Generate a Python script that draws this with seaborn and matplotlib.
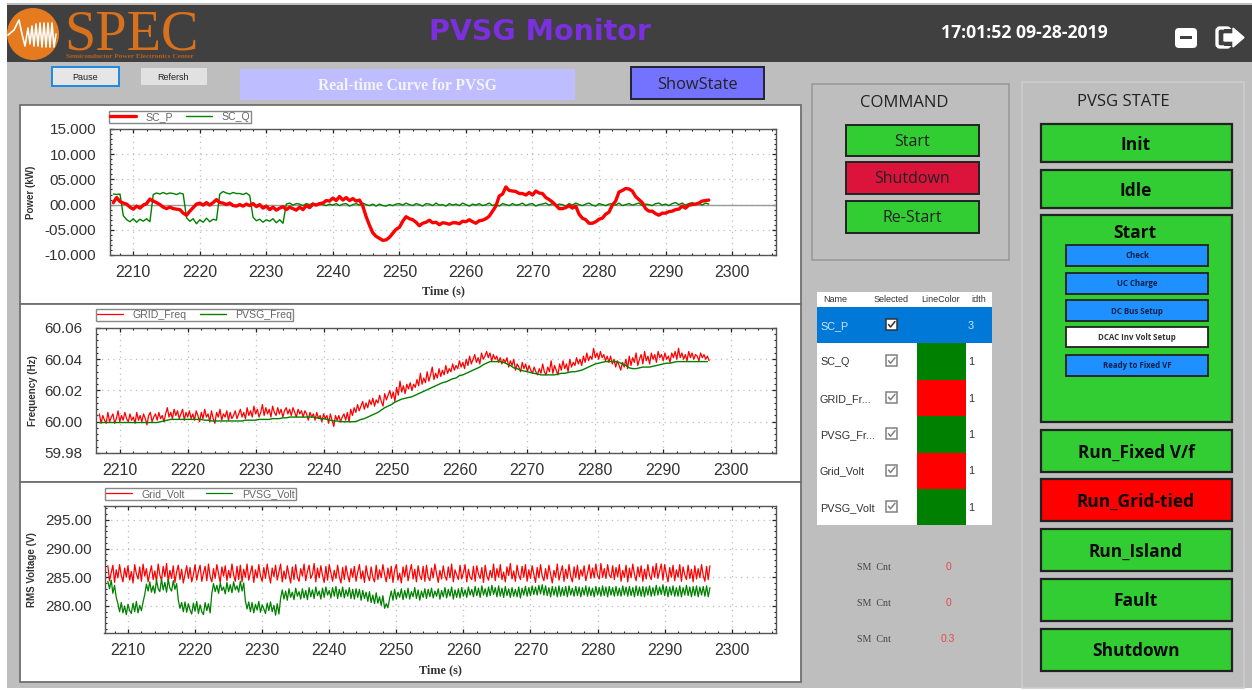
"""PVSG Monitor screen: three real-time curves inside the control panel window"""

import matplotlib
matplotlib.use('Agg')
import matplotlib.pyplot as plt
from matplotlib.patches import Rectangle, Circle, FancyBboxPatch
from matplotlib.ticker import MultipleLocator
import pandas as pd
import seaborn as sns

W, H = 1252, 690

# one row = 10 s of samples
time_s = [
    2207.0, 2207.5, 2208.0, 2208.5, 2209.0, 2209.5, 2210.0, 2210.5, 2211.0, 2211.5, 2212.0, 2212.5, 2213.0, 2213.5, 2214.0, 2214.5, 2215.0, 2215.5, 2216.0, 2216.5,
    2217.0, 2217.5, 2218.0, 2218.5, 2219.0, 2219.5, 2220.0, 2220.5, 2221.0, 2221.5, 2222.0, 2222.5, 2223.0, 2223.5, 2224.0, 2224.5, 2225.0, 2225.5, 2226.0, 2226.5,
    2227.0, 2227.5, 2228.0, 2228.5, 2229.0, 2229.5, 2230.0, 2230.5, 2231.0, 2231.5, 2232.0, 2232.5, 2233.0, 2233.5, 2234.0, 2234.5, 2235.0, 2235.5, 2236.0, 2236.5,
    2237.0, 2237.5, 2238.0, 2238.5, 2239.0, 2239.5, 2240.0, 2240.5, 2241.0, 2241.5, 2242.0, 2242.5, 2243.0, 2243.5, 2244.0, 2244.5, 2245.0, 2245.5, 2246.0, 2246.5,
    2247.0, 2247.5, 2248.0, 2248.5, 2249.0, 2249.5, 2250.0, 2250.5, 2251.0, 2251.5, 2252.0, 2252.5, 2253.0, 2253.5, 2254.0, 2254.5, 2255.0, 2255.5, 2256.0, 2256.5,
    2257.0, 2257.5, 2258.0, 2258.5, 2259.0, 2259.5, 2260.0, 2260.5, 2261.0, 2261.5, 2262.0, 2262.5, 2263.0, 2263.5, 2264.0, 2264.5, 2265.0, 2265.5, 2266.0, 2266.5,
    2267.0, 2267.5, 2268.0, 2268.5, 2269.0, 2269.5, 2270.0, 2270.5, 2271.0, 2271.5, 2272.0, 2272.5, 2273.0, 2273.5, 2274.0, 2274.5, 2275.0, 2275.5, 2276.0, 2276.5,
    2277.0, 2277.5, 2278.0, 2278.5, 2279.0, 2279.5, 2280.0, 2280.5, 2281.0, 2281.5, 2282.0, 2282.5, 2283.0, 2283.5, 2284.0, 2284.5, 2285.0, 2285.5, 2286.0, 2286.5,
    2287.0, 2287.5, 2288.0, 2288.5, 2289.0, 2289.5, 2290.0, 2290.5, 2291.0, 2291.5, 2292.0, 2292.5, 2293.0, 2293.5, 2294.0, 2294.5, 2295.0, 2295.5, 2296.0, 2296.5,
]

sc_p = [
    0.4, 1.4, 0.6, 0.3, 0.1, -0.5, -0.9, -0.3, -0.7, -0.1, 0.2, 1.1, 0.7, 0.4, 0.0, -0.5, -0.8, -0.5, -0.8, -0.9,
    -1.0, -1.7, -2.1, -1.3, -0.6, 0.1, 0.3, -0.1, 0.4, -0.1, 0.4, 1.0, 0.4, 0.3, 0.0, 0.3, -0.2, -0.3, 0.0, -0.3,
    0.1, -0.2, 0.2, -0.4, 0.0, -0.7, -0.3, -1.0, -0.5, -1.1, -0.7, -0.4, -1.0, -0.5, -0.8, -1.1, -0.5, -1.0, -0.2, -0.6,
    0.1, -0.1, 0.2, 0.3, 0.8, 0.7, 1.3, 0.8, 1.6, 0.9, 1.4, 0.8, 1.2, 0.7, 0.9, -0.3, -2.4, -4.1, -5.6, -6.3,
    -6.7, -7.1, -7.0, -6.5, -5.7, -4.9, -4.5, -3.3, -2.4, -2.8, -3.0, -3.5, -4.2, -3.7, -3.5, -3.1, -3.6, -3.5, -4.0, -3.6,
    -3.7, -3.9, -3.6, -3.6, -3.8, -3.3, -3.4, -3.0, -3.4, -3.7, -3.2, -3.1, -2.8, -2.3, -1.3, -0.3, 1.7, 2.1, 3.5, 2.8,
    2.7, 2.6, 2.2, 2.2, 1.9, 2.4, 1.9, 2.7, 2.3, 2.2, 1.4, 1.0, 0.5, -0.1, -0.8, -0.8, -0.6, -0.2, -0.7, -0.3,
    -1.9, -2.7, -3.0, -3.7, -3.7, -3.4, -2.9, -2.7, -1.9, -1.5, -0.1, 0.7, 2.5, 2.8, 3.2, 3.1, 2.7, 1.6, 1.0, 0.4,
    -0.8, -1.3, -1.3, -1.8, -2.1, -1.7, -1.7, -1.4, -1.3, -1.0, -0.9, -0.3, -0.7, -0.1, 0.0, 0.1, 0.3, 0.7, 0.8, 0.9,
]

sc_q = [
    2.1, 2.0, 2.1, -2.2, -3.0, -3.4, -2.8, -3.5, -2.9, -3.3, -2.8, -3.4, 2.0, 2.3, 2.1, 2.4, 2.1, 2.3, 2.2, 2.0,
    2.3, 2.1, -2.6, -3.3, -2.8, -3.8, -3.0, -3.5, -2.7, -3.4, -2.9, -3.1, 2.1, 2.6, 2.3, 2.1, 2.4, 2.2, 2.2, 2.0,
    2.3, 1.8, -2.5, -3.2, -2.9, -3.5, -3.0, -3.3, -2.8, -3.6, -3.0, -3.7, 0.1, 0.3, -0.1, 0.2, 0.1, -0.2, 0.2, 0.0,
    0.3, -0.1, 0.2, 0.0, -0.2, 0.1, -0.1, 0.2, -0.2, 0.1, 0.2, -0.3, 0.0, 0.2, -0.1, 0.3, 0.0, -0.2, 0.1, -0.3,
    0.1, -0.2, -0.3, 0.0, -0.2, 0.1, 0.2, -0.1, 0.3, 0.0, -0.2, 0.2, 0.0, -0.3, 0.2, 0.1, -0.2, 0.3, -0.1, 0.0,
    -0.3, 0.2, -0.1, 0.1, -0.2, 0.3, 0.0, -0.3, 0.1, -0.1, 0.2, -0.2, 0.0, 0.3, -0.2, 0.1, -0.3, 0.2, 0.0, -0.2,
    0.2, -0.1, 0.0, 0.3, -0.2, 0.1, 0.2, -0.3, 0.0, 0.1, 0.3, -0.1, 0.2, -0.2, 0.1, 0.0, -0.3, 0.2, -0.1, 0.3,
    0.0, -0.2, 0.1, 0.3, -0.1, -0.3, 0.2, 0.0, -0.2, 0.1, 0.2, -0.1, 0.3, -0.2, 0.0, 0.2, -0.1, 0.1, 0.3, -0.2,
    0.1, 0.0, -0.2, 0.2, 0.3, -0.1, 0.1, -0.2, 0.2, 0.4, 0.0, 0.3, -0.1, 0.2, 0.4, 0.1, 0.3, -0.1, 0.3, 0.1,
]

pvsg_freq = [
    59.9995, 59.9995, 59.9995, 59.9995, 59.9995, 59.9995, 59.9995, 59.9995, 59.9995, 59.9995, 59.9995, 59.9995, 59.9995, 59.9995, 59.9995, 59.9995, 59.9995, 59.9995, 60.0000, 60.0005,
    60.0010, 60.0015, 60.0015, 60.0015, 60.0015, 60.0015, 60.0015, 60.0015, 60.0015, 60.0015, 60.0015, 60.0010, 60.0010, 60.0005, 60.0005, 60.0005, 60.0005, 60.0005, 60.0005, 60.0005,
    60.0005, 60.0005, 60.0005, 60.0010, 60.0010, 60.0010, 60.0010, 60.0015, 60.0015, 60.0015, 60.0015, 60.0020, 60.0020, 60.0020, 60.0025, 60.0025, 60.0030, 60.0030, 60.0030, 60.0030,
    60.0030, 60.0030, 60.0030, 60.0030, 60.0025, 60.0020, 60.0020, 60.0015, 60.0010, 60.0005, 60.0005, 60.0000, 60.0000, 60.0000, 60.0000, 60.0000, 60.0005, 60.0015, 60.0020, 60.0030,
    60.0040, 60.0050, 60.0060, 60.0075, 60.0090, 60.0100, 60.0110, 60.0125, 60.0135, 60.0145, 60.0150, 60.0155, 60.0160, 60.0170, 60.0180, 60.0190, 60.0200, 60.0210, 60.0220, 60.0230,
    60.0240, 60.0250, 60.0255, 60.0265, 60.0275, 60.0280, 60.0295, 60.0300, 60.0310, 60.0320, 60.0330, 60.0340, 60.0350, 60.0365, 60.0375, 60.0385, 60.0385, 60.0385, 60.0385, 60.0380,
    60.0370, 60.0360, 60.0345, 60.0340, 60.0330, 60.0325, 60.0320, 60.0315, 60.0310, 60.0305, 60.0300, 60.0300, 60.0300, 60.0300, 60.0300, 60.0305, 60.0310, 60.0310, 60.0315, 60.0320,
    60.0320, 60.0325, 60.0330, 60.0340, 60.0350, 60.0360, 60.0370, 60.0375, 60.0380, 60.0385, 60.0385, 60.0385, 60.0385, 60.0380, 60.0370, 60.0360, 60.0345, 60.0340, 60.0340, 60.0345,
    60.0350, 60.0350, 60.0350, 60.0355, 60.0360, 60.0365, 60.0370, 60.0375, 60.0375, 60.0380, 60.0385, 60.0385, 60.0385, 60.0385, 60.0385, 60.0385, 60.0385, 60.0385, 60.0385, 60.0385,
]

# the three noisy traces were logged twice as often: one row = 2.5 s
grid_freq = [
    60.005, 59.999, 60.004, 60.001, 59.999, 60.006, 60.000, 60.003, 60.005, 59.999,
    60.002, 60.007, 60.000, 60.004, 60.001, 60.006, 60.002, 60.000, 60.005, 60.001,
    60.003, 59.999, 60.006, 60.001, 60.004, 60.000, 60.005, 60.002, 59.998, 60.004,
    60.006, 60.000, 60.003, 60.005, 60.001, 60.006, 60.002, 60.004, 60.000, 60.005,
    60.009, 60.003, 60.006, 60.002, 60.008, 60.004, 60.007, 60.002, 60.005, 60.008,
    60.001, 60.006, 60.003, 60.007, 60.002, 60.005, 60.001, 60.007, 60.004, 60.000,
    60.006, 60.002, 60.008, 60.003, 60.005, 60.000, 60.007, 60.002, 59.999, 60.006,
    60.003, 60.008, 60.001, 60.005, 60.003, 60.007, 60.001, 60.006, 60.002, 60.004,
    60.007, 60.002, 60.005, 60.008, 60.003, 60.006, 60.002, 60.009, 60.004, 60.007,
    60.003, 60.010, 60.005, 60.008, 60.003, 60.006, 60.011, 60.004, 60.009, 60.005,
    60.008, 60.003, 60.010, 60.006, 60.004, 60.009, 60.005, 60.008, 60.003, 60.007,
    60.009, 60.005, 60.008, 60.004, 60.009, 60.006, 60.003, 60.008, 60.005, 60.007,
    60.003, 60.007, 60.005, 60.001, 60.006, 60.003, 60.005, 60.001, 60.006, 60.002,
    60.004, 60.000, 60.005, 60.002, 60.004, 59.999, 60.005, 60.001, 59.997, 60.004,
    60.001, 60.004, 60.000, 60.003, 60.005, 60.001, 60.006, 60.000, 60.008, 60.004,
    60.009, 60.006, 60.011, 60.007, 60.010, 60.013, 60.008, 60.012, 60.009, 60.014,
    60.011, 60.015, 60.010, 60.014, 60.012, 60.017, 60.013, 60.010, 60.018, 60.014,
    60.017, 60.020, 60.015, 60.019, 60.013, 60.022, 60.017, 60.026, 60.019, 60.023,
    60.018, 60.024, 60.021, 60.025, 60.020, 60.024, 60.022, 60.027, 60.023, 60.031,
    60.024, 60.028, 60.025, 60.032, 60.026, 60.030, 60.035, 60.027, 60.031, 60.028,
    60.034, 60.029, 60.033, 60.030, 60.036, 60.031, 60.034, 60.032, 60.037, 60.033,
    60.036, 60.034, 60.039, 60.035, 60.038, 60.034, 60.040, 60.036, 60.042, 60.037,
    60.040, 60.043, 60.038, 60.041, 60.037, 60.044, 60.040, 60.042, 60.045, 60.041,
    60.044, 60.039, 60.043, 60.040, 60.042, 60.038, 60.041, 60.037, 60.040, 60.038,
    60.041, 60.035, 60.039, 60.036, 60.040, 60.033, 60.037, 60.035, 60.032, 60.038,
    60.034, 60.037, 60.032, 60.036, 60.033, 60.031, 60.035, 60.032, 60.030, 60.034,
    60.031, 60.037, 60.032, 60.030, 60.035, 60.032, 60.039, 60.031, 60.036, 60.033,
    60.030, 60.037, 60.033, 60.039, 60.034, 60.037, 60.032, 60.040, 60.035, 60.038,
    60.036, 60.041, 60.037, 60.040, 60.036, 60.042, 60.038, 60.044, 60.039, 60.042,
    60.040, 60.047, 60.041, 60.044, 60.040, 60.045, 60.041, 60.043, 60.039, 60.042,
    60.038, 60.042, 60.037, 60.040, 60.035, 60.039, 60.036, 60.033, 60.038, 60.035,
    60.040, 60.034, 60.042, 60.036, 60.041, 60.038, 60.044, 60.036, 60.040, 60.043,
    60.037, 60.045, 60.039, 60.042, 60.037, 60.044, 60.040, 60.043, 60.038, 60.045,
    60.041, 60.043, 60.039, 60.044, 60.040, 60.042, 60.038, 60.044, 60.041, 60.045,
    60.040, 60.047, 60.041, 60.044, 60.040, 60.043, 60.039, 60.045, 60.041, 60.044,
    60.040, 60.043, 60.042, 60.039, 60.044, 60.041, 60.043, 60.040, 60.042, 60.039,
]

grid_volt = [
    287.0, 284.4, 285.8, 287.1, 284.1, 286.3, 284.9, 287.2, 285.3, 284.2,
    286.6, 285.0, 287.0, 284.5, 286.0, 284.0, 287.2, 285.6, 284.7, 286.8,
    284.3, 287.3, 285.2, 286.5, 284.2, 285.7, 287.0, 284.6, 286.1, 284.3,
    287.3, 285.4, 284.5, 286.9, 285.1, 287.4, 284.2, 286.2, 284.8, 287.0,
    284.1, 285.9, 287.1, 284.6, 286.4, 284.0, 285.5, 287.0, 284.8, 286.7,
    284.2, 285.4, 287.2, 284.5, 286.0, 287.1, 284.3, 285.7, 286.9, 284.4,
    287.3, 285.1, 284.2, 286.5, 284.8, 287.2, 285.6, 284.1, 286.8, 285.2,
    287.0, 284.4, 286.2, 284.9, 287.3, 285.4, 284.3, 286.9, 284.6, 287.1,
    284.2, 286.4, 285.0, 287.3, 284.5, 285.8, 287.0, 284.1, 286.3, 284.9,
    287.2, 285.2, 284.3, 286.7, 284.8, 287.3, 285.5, 284.0, 286.6, 285.1,
    287.1, 284.5, 285.9, 287.3, 284.2, 286.1, 284.7, 287.0, 285.4, 284.0,
    286.8, 284.6, 287.2, 285.0, 284.3, 286.5, 285.2, 287.3, 284.4, 286.0,
    287.1, 284.8, 285.5, 287.4, 284.2, 286.6, 284.9, 287.0, 285.3, 284.1,
    286.9, 284.5, 287.2, 285.7, 284.3, 286.2, 284.8, 287.1, 285.1, 284.0,
    286.7, 284.6, 287.0, 285.4, 284.2, 286.5, 285.0, 286.9, 284.3, 285.9,
    287.2, 284.7, 286.1, 284.1, 287.0, 285.3, 284.4, 286.8, 285.0, 284.2,
    287.1, 284.6, 286.3, 284.9, 287.2, 285.5, 284.2, 286.6, 284.8, 286.9,
    284.1, 286.2, 287.2, 284.5, 285.7, 284.0, 286.8, 285.1, 287.1, 284.4,
    285.9, 287.2, 284.7, 286.4, 284.2, 287.0, 285.3, 284.6, 286.9, 284.3,
    287.1, 285.0, 284.4, 286.6, 284.9, 287.3, 285.6, 284.1, 286.2, 284.7,
    287.0, 285.2, 284.5, 286.8, 284.9, 287.3, 284.2, 286.3, 285.4, 284.6,
    287.1, 284.7, 285.8, 287.2, 284.2, 286.4, 285.0, 284.6, 286.9, 284.3,
    287.0, 285.5, 284.8, 286.7, 284.1, 287.1, 285.2, 284.5, 286.2, 284.9,
    287.3, 284.4, 286.5, 285.0, 287.2, 284.6, 285.9, 284.2, 286.8, 285.3,
    287.4, 284.7, 286.1, 284.3, 287.1, 285.4, 284.6, 286.9, 285.0, 287.2,
    284.3, 286.3, 284.8, 287.0, 285.5, 284.1, 286.7, 284.9, 287.2, 285.2,
    284.4, 286.5, 284.7, 287.1, 285.6, 284.0, 286.2, 285.0, 287.3, 284.5,
    285.8, 287.0, 284.3, 286.4, 284.8, 287.2, 285.1, 284.2, 286.8, 284.9,
    287.1, 284.6, 286.3, 285.2, 287.0, 284.4, 285.7, 287.2, 284.8, 286.6,
    284.9, 287.3, 285.3, 284.7, 287.4, 285.0, 286.5, 284.8, 287.2, 285.4,
    284.9, 287.0, 284.6, 286.7, 285.1, 287.2, 284.3, 286.2, 285.0, 287.1,
    284.2, 286.6, 284.9, 287.3, 285.5, 284.4, 286.8, 285.1, 287.0, 284.3,
    286.4, 284.7, 287.2, 285.3, 284.6, 286.9, 285.0, 287.4, 284.8, 286.1,
    287.3, 284.5, 287.2, 285.6, 284.2, 286.7, 285.0, 287.1, 284.4, 286.3,
    285.0, 287.2, 284.3, 286.8, 285.4, 284.6, 287.1, 284.8, 286.4, 284.2,
    287.0, 284.7, 286.5, 284.9, 287.2, 285.3, 284.3, 286.9, 284.6, 287.0,
]

pvsg_volt = [
    284.3, 283.0, 284.5, 282.2, 283.6, 281.5, 280.4, 279.0, 280.6, 278.8,
    280.0, 278.5, 280.3, 279.2, 278.7, 280.5, 279.0, 280.8, 278.8, 280.1,
    279.2, 280.7, 282.0, 283.8, 282.6, 284.2, 282.4, 283.5, 282.2, 284.5,
    283.0, 282.5, 284.7, 282.8, 284.1, 282.4, 284.6, 283.1, 282.6, 284.4,
    282.9, 283.9, 281.0, 279.6, 280.6, 279.0, 280.7, 278.9, 280.4, 279.3,
    278.6, 280.5, 279.1, 280.8, 278.7, 280.2, 279.0, 278.5, 280.6, 279.2,
    280.4, 278.8, 282.2, 283.9, 282.5, 283.6, 282.2, 284.0, 282.7, 283.3,
    282.1, 284.1, 282.5, 283.7, 282.3, 284.2, 282.8, 283.5, 282.4, 284.3,
    282.6, 284.0, 280.9, 279.5, 280.7, 279.0, 280.6, 278.8, 280.3, 279.3,
    280.8, 278.9, 280.2, 279.5, 278.7, 280.5, 279.2, 280.7, 279.0, 280.1,
    278.4, 280.4, 278.6, 281.3, 282.8, 281.2, 282.6, 281.0, 283.0, 281.5,
    282.4, 281.1, 283.1, 281.7, 282.5, 281.2, 283.0, 281.4, 282.7, 281.1,
    283.2, 281.6, 282.8, 281.3, 283.3, 281.8, 282.6, 281.2, 283.1, 281.5,
    283.3, 281.9, 282.7, 281.4, 283.2, 281.7, 283.4, 281.3, 282.9, 281.6,
    283.3, 281.4, 282.8, 281.7, 283.2, 281.3, 282.9, 281.2, 283.0, 281.5,
    282.9, 281.0, 282.7, 281.3, 282.4, 280.8, 282.5, 280.6, 281.9, 280.4,
    282.3, 280.5, 281.6, 280.1, 281.8, 279.6, 280.4, 279.7, 281.3, 282.6,
    281.0, 282.9, 281.2, 282.4, 281.5, 283.0, 281.1, 282.7, 281.4, 283.1,
    281.2, 282.5, 281.6, 283.2, 281.3, 282.8, 281.0, 282.6, 281.5, 283.0,
    281.3, 282.9, 281.6, 283.1, 281.4, 282.6, 281.7, 283.0, 281.2, 282.7,
    281.6, 283.2, 281.4, 282.9, 281.7, 283.3, 281.2, 282.8, 281.5, 283.0,
    281.4, 283.2, 281.7, 282.8, 281.5, 283.3, 281.9, 282.9, 281.6, 283.4,
    281.8, 283.1, 281.5, 283.5, 281.9, 283.0, 281.6, 283.3, 281.8, 283.6,
    282.0, 283.2, 281.6, 283.5, 281.7, 283.1, 281.5, 283.4, 281.8, 283.0,
    281.5, 283.2, 281.7, 282.9, 281.6, 283.3, 281.4, 283.1, 281.9, 283.4,
    281.7, 283.2, 281.8, 283.5, 282.0, 283.3, 281.9, 283.6, 282.1, 283.7,
    281.9, 283.5, 281.8, 283.2, 281.6, 283.4, 281.9, 283.3, 281.6, 283.5,
    281.7, 283.2, 281.8, 283.4, 281.6, 283.5, 281.9, 283.1, 281.7, 283.4,
    281.8, 283.3, 281.6, 283.2, 281.9, 283.5, 281.7, 283.3, 281.8, 283.1,
    281.6, 283.4, 281.9, 283.2, 281.7, 283.5, 281.8, 283.3, 281.6, 283.4,
    281.9, 283.2, 281.7, 283.4, 281.8, 283.1, 281.7, 283.5, 281.9, 283.3,
    281.7, 283.4, 281.8, 283.2, 281.6, 283.5, 281.8, 283.3, 281.7, 283.4,
    281.6, 283.3, 281.9, 283.5, 281.7, 283.2, 281.8, 283.6, 281.9, 283.3,
    282.0, 283.7, 281.8, 283.4, 281.6, 283.3, 281.9, 283.5, 281.7, 283.2,
    281.7, 283.5, 281.6, 283.2, 281.9, 283.6, 281.8, 283.3, 281.6, 283.4,
    281.8, 283.5, 281.6, 283.3, 281.9, 283.4, 281.7, 283.5, 281.6, 283.2,
]

power_ticks = [15, 10, 5, 0, -5, -10]
power_labels = ['15.000', '10.000', '05.000', '00.000', '-05.000', '-10.000']
freq_ticks = [60.06, 60.04, 60.02, 60.00, 59.98]
freq_labels = ['60.06', '60.04', '60.02', '60.00', '59.98']
volt_ticks = [295, 290, 285, 280]
volt_labels = ['295.00', '290.00', '285.00', '280.00']
time_ticks = [2210, 2220, 2230, 2240, 2250, 2260, 2270, 2280, 2290, 2300]

table_names = ['SC_P', 'SC_Q', 'GRID_Fr...', 'PVSG_Fr...', 'Grid_Volt', 'PVSG_Volt']
table_colors = ['#0078D7', 'green', 'red', 'green', 'red', 'green']
table_widths = ['3', '1', '1', '1', '1', '1']
sm_values = ['0', '0', '0.3']
sub_states = ['Check', 'UC Charge', 'DC Bus Setup', 'DCAC Inv Volt Setup', 'Ready to Fixed VF']

GREEN = '#32CD32'
SERIF = 'Liberation Serif'
UI_FONT = 'Open Sans'

df = pd.DataFrame({'time': time_s, 'SC_P': sc_p, 'SC_Q': sc_q, 'PVSG_Freq': pvsg_freq})
df_fast = pd.DataFrame({
    'time': sorted(time_s + [t + 0.25 for t in time_s]),
    'GRID_Freq': grid_freq, 'Grid_Volt': grid_volt, 'PVSG_Volt': pvsg_volt,
})

sns.set_theme(style='white')
plt.rcParams['font.family'] = ['Liberation Sans', 'DejaVu Sans']

fig = plt.figure(figsize=(W / 100, H / 100), dpi=100, facecolor='white')

# whole window is drawn in pixel coordinates on this axes
ui = fig.add_axes([0, 0, 1, 1], zorder=0)
ui.set_xlim(0, W)
ui.set_ylim(H, 0)
ui.axis('off')


def box(x0, y0, x1, y1, fc, ec='none', lw=0.0):
    ui.add_patch(Rectangle((x0, y0), x1 - x0, y1 - y0, fc=fc, ec=ec, lw=lw))


def label(x, y, text, size=10, color='#222222', family=UI_FONT, weight='normal', ha='center'):
    ui.text(x, y, text, fontsize=size, color=color, family=family, weight=weight, ha=ha, va='center')


def state_button(y0, y1, text, fc=GREEN):
    box(1041, y0, 1232, y1, fc, '#222222', 1.6)
    label(1136, (y0 + y1) / 2 + 1.5, text, size=12.5, color='#0a0a0a', weight='bold')


def command_button(y0, y1, text, fc=GREEN):
    box(846, y0, 979, y1, fc, '#222222', 1.4)
    label(912, (y0 + y1) / 2 + 1, text, size=11.5, color='#222222')


def check_box(x, y, color):
    box(x - 5.5, y - 5.5, x + 5.5, y + 5.5, 'white', color, 1.1)
    ui.plot([x - 3, x - 1, x + 3.5], [y, y + 2.5, y - 3], color=color, lw=1.1)


# window background and title bar
box(7, 3, W, 688, '#BEBEBE')
box(7, 5, W, 62, '#404040')
ui.add_patch(Circle((33, 34), 26, fc='#E57A1E', ec='none'))
ui.plot([8, 14, 19, 22, 25, 28, 30, 32, 34, 36, 38, 40, 42, 44, 46, 48, 50, 52, 54, 56],
        [35, 30, 20, 34, 46, 28, 44, 26, 46, 24, 46, 23, 47, 23, 47, 23, 47, 23, 47, 34],
        color='white', lw=1.2)
label(64, 35, 'SPEC', size=40.5, color='#D8701C', family=SERIF, ha='left')
label(130, 56.5, 'Semiconductor Power Electronics Center', size=5.2, color='#B8601C', family=SERIF, weight='bold')
label(539.5, 32, 'PVSG Monitor', size=20.5, color='#7B2FE0', family='DejaVu Sans', weight='bold')
label(1024, 33, '17:01:52 09-28-2019', size=12.7, color='white', weight='bold')
ui.add_patch(FancyBboxPatch((1175, 28), 22, 20, boxstyle='round,pad=0,rounding_size=4', fc='white', ec='none'))
box(1180, 36, 1192, 39, '#404040')
ui.add_patch(FancyBboxPatch((1217, 28), 13, 19, boxstyle='round,pad=0,rounding_size=3', fc='none', ec='white', lw=2.4))
box(1224, 29, 1233, 46, '#404040')
ui.fill([1224, 1233, 1233, 1244, 1233, 1233, 1224], [34, 34, 28, 37.5, 47, 41, 41], color='white')

# top row of controls
box(52, 67, 119, 86, '#E6E6E6', '#1E88E5', 1.4)
label(85, 77, 'Pause', size=6.5, family='Liberation Sans')
box(141, 68, 207, 85, '#E1E1E1')
label(173, 77, 'Refersh', size=6.5, family='Liberation Sans')
box(240, 69, 575, 100, '#BDBDFF')
label(407, 85.5, 'Real-time Curve for PVSG', size=11.2, color='#F4F4FF', family=SERIF, weight='bold')
box(631, 67, 764, 99, '#7373FF', '#222233', 1.4)
label(697, 85, 'ShowState', size=11.8)

# white panels behind the charts
for y0, y1 in [(105, 304), (304, 482), (482, 682)]:
    box(20, y0, 801, y1, 'white', '#707070', 1.3)

# command panel
box(812, 84, 1009, 260, '#BEBEBE', '#9A9A9A', 1.2)
label(904, 103, 'COMMAND', size=12)
command_button(125, 156, 'Start')
command_button(162, 194, 'Shutdown', '#DC143C')
command_button(201, 233, 'Re-Start')

# signal table
box(817, 292, 992, 525, 'white')
for x, text in [(835, 'Name'), (891, 'Selected'), (941, 'LineColor'), (979, 'idth')]:
    label(x, 300, text, size=6.5, color='#333333', family='Liberation Sans')
row_edges = [307, 343, 379.5, 416, 452.5, 488.5, 525]
for i, name in enumerate(table_names):
    y0, y1 = row_edges[i], row_edges[i + 1]
    mid = (y0 + y1) / 2
    if i == 0:
        box(817, y0, 992, y1, table_colors[i])
    else:
        box(917, y0, 966, y1, table_colors[i])
    text_color = '#CFE6FA' if i == 0 else '#333333'
    label(820, mid + 1, name, size=7.8, color=text_color, family='Liberation Sans', ha='left')
    label(971, mid + 1, table_widths[i], size=7.8, color=text_color, family='Liberation Sans')
    check_box(891.5, mid - 0.5, '#333333' if i == 0 else '#808080')

for y, value in zip([568, 604, 640], sm_values):
    label(874, y, 'SM  Cnt', size=7.2, color='#444444', family=SERIF)
    label(948, y - 1, value, size=7.5, color='#E8474C', family='Liberation Sans')

# state panel
box(1022, 82, 1244, 688, '#BEBEBE', '#CCCCCC', 1.2)
label(1123, 102, 'PVSG STATE', size=12)
state_button(124, 162, 'Init')
state_button(170, 208, 'Idle')
box(1041, 215, 1232, 422, GREEN, '#222222', 1.6)
label(1135, 232.5, 'Start', size=12.5, color='#0a0a0a', weight='bold')
sub_edges = [(245, 266), (273, 294), (300, 321), (327, 347), (355, 376)]
for (y0, y1), text in zip(sub_edges, sub_states):
    fc = 'white' if text.startswith('DCAC') else '#1E90FF'
    box(1066, y0, 1208, y1, fc, '#222222', 1.3)
    label(1137, (y0 + y1) / 2 + 0.5, text, size=5.7, color='#10204A' if fc != 'white' else '#333333', weight='bold')
state_button(430, 472, 'Run_Fixed V/f')
state_button(479, 521, 'Run_Grid-tied', 'red')
state_button(529, 571, 'Run_Island')
state_button(579, 621, 'Fault')
state_button(629, 671, 'Shutdown')


def chart(left, right, top, bottom, ylim, yticks, ylabels, yminor, ypad):
    ax = fig.add_axes([left / W, 1 - bottom / H, (right - left) / W, (bottom - top) / H], zorder=2)
    ax.set_xlim(2206.5, 2306.6)
    ax.set_ylim(*ylim)
    ax.set_xticks(time_ticks)
    ax.set_yticks(yticks)
    ax.set_yticklabels(ylabels)
    ax.xaxis.set_minor_locator(MultipleLocator(2))
    ax.yaxis.set_minor_locator(MultipleLocator(yminor))
    ax.tick_params(axis='both', which='major', direction='in', length=3, width=0.9, color='#222222',
                   labelcolor='#333333', top=True, right=True, left=True, bottom=True)
    ax.tick_params(axis='x', which='major', labelsize=11.5, pad=7)
    ax.tick_params(axis='y', which='major', labelsize=11, pad=ypad)
    ax.tick_params(axis='both', which='minor', direction='in', length=1.5, width=0.8, color='#222222',
                   top=True, right=True, left=True, bottom=True)
    ax.grid(True, which='major', linestyle=(0, (1, 3.5)), linewidth=0.9, color='#BDBDBD')
    for spine in ax.spines.values():
        spine.set_color('#555555')
        spine.set_linewidth(1.0)
    return ax


def add_legend(ax, x_frac, y_frac, column_gap, handles=None, names=None):
    if handles is None:
        handles, names = ax.get_legend_handles_labels()
    leg = ax.legend(handles, names, loc='lower left', bbox_to_anchor=(x_frac, y_frac), ncol=2, frameon=True,
                    fancybox=False, edgecolor='#888888', framealpha=1, fontsize=7.6, borderaxespad=0, borderpad=0.1,
                    handlelength=2.5, columnspacing=column_gap, handletextpad=0.9)
    for text in leg.get_texts():
        text.set_color('#666666')
    leg.get_frame().set_linewidth(1.0)


def axis_text(ax, ylabel, x_coord, xlabel=None, labelpad=4):
    ax.set_ylabel(ylabel, fontsize=7, weight='bold', color='#333333')
    ax.yaxis.set_label_coords(x_coord, 0.5)
    if xlabel:
        ax.set_xlabel(xlabel, fontsize=8.8, weight='bold', family=SERIF, color='#333333', labelpad=labelpad)
    else:
        ax.set_xlabel('')


# power
ax1 = chart(110, 776, 129, 255, (-10, 15), power_ticks, power_labels, 1, 10)
ax1.axhline(0, color='#999999', lw=1.0, zorder=1)
sns.lineplot(data=df, x='time', y='SC_Q', ax=ax1, color='green', lw=1.0, label='SC_Q', estimator=None, sort=False)
sns.lineplot(data=df, x='time', y='SC_P', ax=ax1, color='red', lw=2.4, label='SC_P', estimator=None, sort=False)
handles, names = ax1.get_legend_handles_labels()
add_legend(ax1, -0.002, 1.048, 1.2, handles[::-1], names[::-1])
axis_text(ax1, 'Power (kW)', -0.111, 'Time (s)')

# frequency
ax2 = chart(96, 776, 328, 453, (59.98, 60.06), freq_ticks, freq_labels, 0.004, 10)
sns.lineplot(data=df_fast, x='time', y='GRID_Freq', ax=ax2, color='red', lw=0.9, label='GRID_Freq', estimator=None, sort=False)
sns.lineplot(data=df, x='time', y='PVSG_Freq', ax=ax2, color='green', lw=1.0, label='PVSG_Freq', estimator=None, sort=False)
add_legend(ax2, 0.0, 1.056, 1.2)
axis_text(ax2, 'Frequency (Hz)', -0.086)

# voltage
ax3 = chart(104.5, 776, 506, 633, (275.3, 297.4), volt_ticks, volt_labels, 1, 9)
sns.lineplot(data=df_fast, x='time', y='Grid_Volt', ax=ax3, color='red', lw=0.9, label='Grid_Volt', estimator=None, sort=False)
sns.lineplot(data=df_fast, x='time', y='PVSG_Volt', ax=ax3, color='green', lw=0.9, label='PVSG_Volt', estimator=None, sort=False)
add_legend(ax3, 0.0, 1.047, 2.0)
axis_text(ax3, 'RMS Voltage (V)', -0.1, 'Time (s)', labelpad=4.5)

fig.savefig('out.png', dpi=100)
plt.close(fig)
